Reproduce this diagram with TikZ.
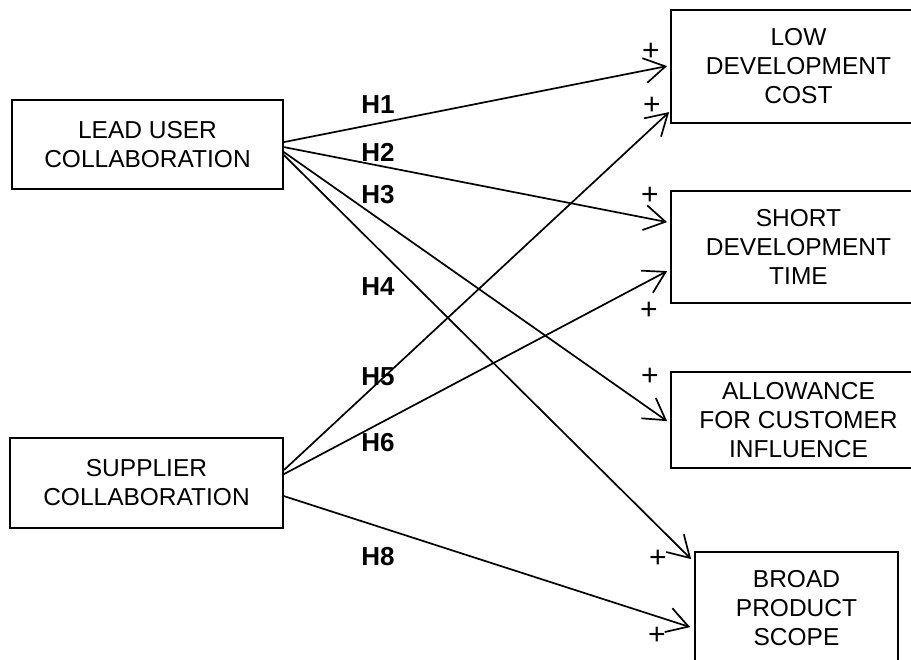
\documentclass[tikz,border=0pt]{standalone}
\usepackage{fontspec}
\setmainfont{Liberation Sans}
\usetikzlibrary{arrows.meta,calc}
\begin{document}
\begin{tikzpicture}[x=1pt,y=-1pt,
  box/.style={draw,line width=1.8pt,rectangle,inner sep=0pt,align=center,
    font=\fontsize{24.5}{29}\selectfont},
  link/.style={line width=1.7pt,
    -{Straight Barb[length=21pt,width=25pt,line width=1.7pt]}},
  hyp/.style={font=\bfseries\fontsize{26}{30}\selectfont,inner sep=0pt},
  sign/.style={font=\fontsize{30}{34}\selectfont,inner sep=0pt}]
\useasboundingbox (0,0) rectangle (911,660);
\clip (0,0) rectangle (911,660);

% constructs
\node[box,minimum width=271pt,minimum height=89pt] (lead) at (147.5,144.5) {LEAD USER\\COLLABORATION};
\node[box,minimum width=273pt,minimum height=90pt] (supp) at (146.5,483) {SUPPLIER\\COLLABORATION};
\node[box,minimum width=255pt,minimum height=113pt] (low) at (798.5,66.5) {LOW\\DEVELOPMENT\\COST};
\node[box,minimum width=255pt,minimum height=112pt] (short) at (798.5,247) {SHORT\\DEVELOPMENT\\TIME};
\node[box,minimum width=255pt,minimum height=96pt] (allow) at (798.5,420) {ALLOWANCE\\FOR CUSTOMER\\INFLUENCE};
\node[box,minimum width=203pt,minimum height=112pt] (broad) at (796.5,608) {BROAD\\PRODUCT\\SCOPE};

% hypothesised effects
\draw[link] ($(lead.north east)+(0,43)$) -- ($(low.north west)+(-3,57)$);
\draw[link] ($(lead.north east)+(0,48)$) -- ($(short.north west)+(-3,32)$);
\draw[link] ($(lead.north east)+(0,53)$) -- ($(allow.north west)+(-3,50)$);
\draw[link] ($(lead.north east)+(0,56)$) -- ($(broad.north west)+(-3,8)$);
\draw[link] ($(supp.north east)+(0,33)$) -- ($(low.north west)+(-1,103)$);
\draw[link] ($(supp.north east)+(0,37)$) -- ($(short.north west)+(-3,81)$);
\draw[link] ($(supp.north east)+(0,59)$) -- ($(broad.north west)+(-4,76)$);

% hypothesis labels
\node[hyp] (h1) at (378,105) {H1};
\node[hyp] (h2) at (378,152) {H2};
\node[hyp] (h3) at (378,195) {H3};
\node[hyp] (h4) at (378,287) {H4};
\node[hyp] (h5) at (378,377) {H5};
\node[hyp] (h6) at (378,443) {H6};
\node[hyp] (h8) at (378,557) {H8};

% signs of the effects
\node[sign] (p1) at (651,52) {+};
\node[sign] (p5) at (652,106) {+};
\node[sign] (p2) at (650,196) {+};
\node[sign] (p6) at (649,311) {+};
\node[sign] (p3) at (650,377) {+};
\node[sign] (p4) at (658,559) {+};
\node[sign] (p8) at (657,636) {+};
\end{tikzpicture}
\end{document}
